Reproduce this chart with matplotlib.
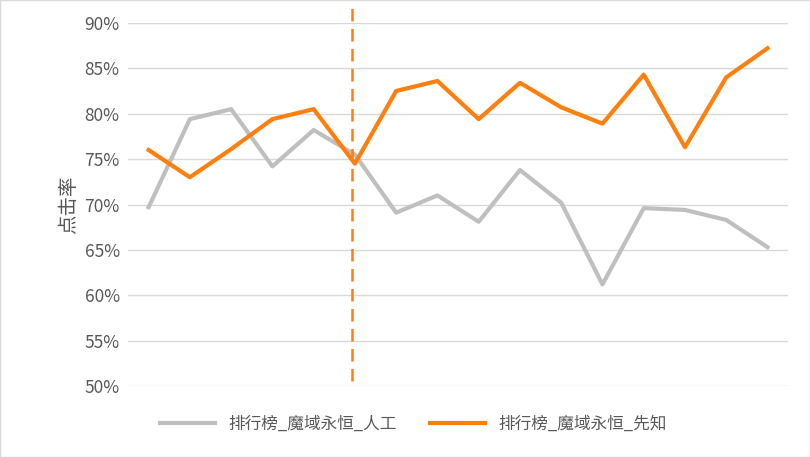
import matplotlib
matplotlib.use("Agg")
import matplotlib.pyplot as plt

plt.rcParams["font.family"] = ["Noto Sans CJK SC", "DejaVu Sans"]

# click-through rates (%) per period
manual = [69.7, 79.4, 80.5, 74.2, 78.2, 75.5, 69.1, 71.0, 68.1, 73.8, 70.2, 61.2, 69.6, 69.4, 68.3, 65.3]
prophet = [76.0, 73.0, 76.1, 79.4, 80.5, 74.5, 82.5, 83.6, 79.4, 83.4, 80.7, 78.9, 84.3, 76.3, 84.0, 87.2]
yticks = [50, 55, 60, 65, 70, 75, 80, 85, 90]
split_idx = 5

fig = plt.figure(figsize=(8.1, 4.57), dpi=100)
ax = fig.add_axes([0.158, 0.155, 0.815, 0.795])
x = range(len(manual))
ax.plot(x, manual, color="#BFBFBF", lw=3, label="排行榜_魔域永恒_人工", solid_joinstyle="round")
ax.plot(x, prophet, color="#FF7F0E", lw=3, label="排行榜_魔域永恒_先知", solid_joinstyle="round")
ax.axvline(split_idx - 0.07, ymin=0.014, ymax=1.041, color="#FF7F0E", lw=1.8,
           ls=(0, (5, 3)), clip_on=False)

ax.set_xlim(-0.5, len(manual) - 0.5)
ax.set_ylim(50, 90)
ax.set_yticks(yticks)
ax.set_yticklabels([f"{v}%" for v in yticks], fontsize=12.5, color="#595959")
ax.set_xticks([])
ax.grid(axis="y", color="#D9D9D9", lw=1)
ax.set_axisbelow(True)
for s in ax.spines.values():
    s.set_visible(False)
ax.tick_params(axis="y", length=0, pad=6)
ax.set_ylabel("点击率", fontsize=14, color="#595959", labelpad=4)

fig.legend(loc="lower center", bbox_to_anchor=(0.51, 0.02), ncol=2, frameon=False,
           fontsize=12, labelcolor="#595959", handlelength=3.3, columnspacing=2.0)
fig.patches.append(plt.Rectangle((0, 0), 1, 1, transform=fig.transFigure,
                                 fill=False, edgecolor="#D9D9D9", lw=1))
fig.savefig("out.png", dpi=100)
